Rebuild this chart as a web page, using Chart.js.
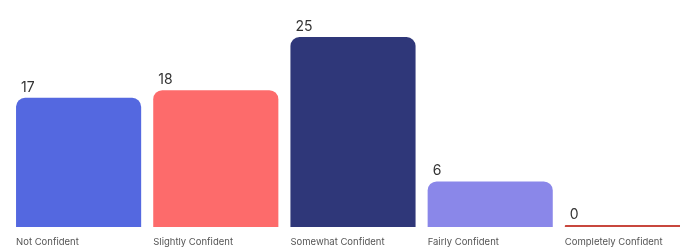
<!DOCTYPE html>
<html><head><meta charset="utf-8">
<script src="https://cdn.jsdelivr.net/npm/chart.js@4"></script>
<style>html,body{margin:0;padding:0;background:#fff;overflow:hidden;width:680px;height:248px}
#wrap{width:696px;height:248px;position:relative}</style>
</head><body><div id="wrap"><canvas id="c"></canvas></div>
<script>
const categories = ["Not Confident","Slightly Confident","Somewhat Confident","Fairly Confident","Completely Confident"];
const values = [17, 18, 25, 6, 0];
const colors = ["#5468e0","#fd6b6b","#2f3779","#8a87e9","#c8473d"];

const labelPlugin = {
  id: 'labels',
  afterDatasetsDraw(chart) {
    const ctx = chart.ctx;
    const meta = chart.getDatasetMeta(0);
    ctx.save();
    meta.data.forEach((bar, i) => {
      const left = bar.x - bar.width / 2;
      ctx.fillStyle = '#333';
      ctx.font = '14px Inter, "DejaVu Sans", sans-serif';
      ctx.textAlign = 'left';
      ctx.textBaseline = 'alphabetic';
      ctx.fillText(String(values[i]), left + 5, Math.min(bar.y, bar.base - 2) - 6);
      ctx.fillStyle = '#555';
      ctx.font = '9.5px Inter, "DejaVu Sans", sans-serif';
      ctx.textBaseline = 'top';
      ctx.fillText(categories[i], left, chart.chartArea.bottom + 10);
    });
    ctx.restore();
  }
};

new Chart(document.getElementById('c'), {
  type: 'bar',
  data: {
    labels: categories,
    datasets: [{
      data: values,
      backgroundColor: colors,
      borderRadius: {topLeft: 9, topRight: 9, bottomLeft: 0, bottomRight: 0},
      borderSkipped: 'bottom',
      barPercentage: 1,
      categoryPercentage: 0.912,
      minBarLength: 2
    }]
  },
  options: {
    responsive: true,
    maintainAspectRatio: false,
    animation: false,
    layout: {padding: {left: 10, right: 0, top: 37, bottom: 21}},
    plugins: {legend: {display: false}, tooltip: {enabled: false}},
    scales: {
      x: {display: false, offset: true},
      y: {display: false, min: 0, max: 25}
    }
  },
  plugins: [labelPlugin]
});
</script></body></html>
